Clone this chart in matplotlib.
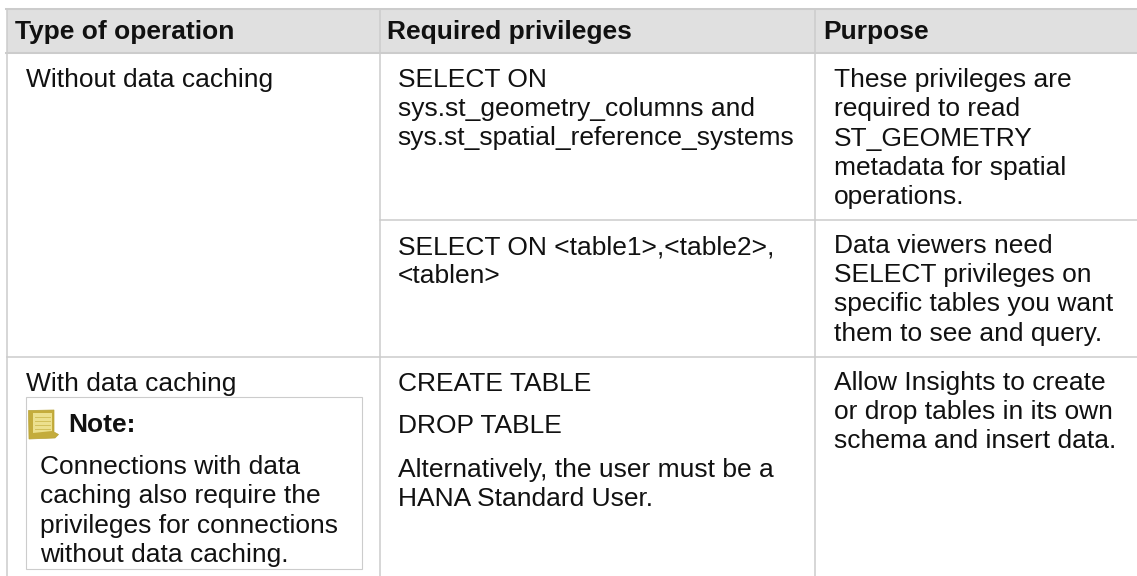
import matplotlib
matplotlib.use("Agg")
import matplotlib.pyplot as plt
from matplotlib.patches import Polygon, Rectangle

plt.rcParams['font.family'] = ['Liberation Sans', 'DejaVu Sans']

headers = ["Type of operation", "Required privileges", "Purpose"]
type_rows = ["Without data caching", "With data caching"]
note_title = "Note:"
note_lines = ["Connections with data", "caching also require the",
              "privileges for connections", "without data caching."]
priv_row1 = ["SELECT ON", "sys.st_geometry_columns and", "sys.st_spatial_reference_systems"]
priv_row2 = ["SELECT ON <table1>,<table2>,", "<tablen>"]
priv_row3 = ["CREATE TABLE", "DROP TABLE", "Alternatively, the user must be a", "HANA Standard User."]
purpose_row1 = ["These privileges are", "required to read", "ST_GEOMETRY",
                "metadata for spatial", "operations."]
purpose_row2 = ["Data viewers need", "SELECT privileges on",
                "specific tables you want", "them to see and query."]
purpose_row3 = ["Allow Insights to create", "or drop tables in its own",
                "schema and insert data."]

W, H = 1137, 576
LINE = "#cccccc"
INK = "#111111"
FS = 19

fig = plt.figure(figsize=(W / 100, H / 100), dpi=100)
ax = fig.add_axes([0, 0, 1, 1])
ax.set_xlim(0, W)
ax.set_ylim(H, 0)
ax.axis("off")

# cabecera
ax.add_patch(Rectangle((7, 9), W - 7, 43.5, facecolor="#e0e0e0", edgecolor="none", zorder=1))

# lineas de la tabla
lw = 1.45
ax.plot([6, W], [9, 9], color=LINE, lw=lw, zorder=2)
ax.plot([6, W], [52.5, 52.5], color=LINE, lw=lw, zorder=2)
ax.plot([380, W], [219.7, 219.7], color=LINE, lw=1.1, zorder=2)
ax.plot([7, W], [357, 357], color=LINE, lw=1.1, zorder=2)
for x in [7, 379.5, 815]:
    ax.plot([x, x], [9, H], color=LINE, lw=1.1, zorder=2)


def put(x, baselines, lines, **kw):
    for y, s in zip(baselines, lines):
        ax.text(x, y, s, fontsize=FS, color=INK, va="baseline", ha="left", zorder=4, **kw)


# encabezados
put(15, [39.5], headers[:1], fontweight="bold")
put(387, [39.5], headers[1:2], fontweight="bold")
put(823, [39.5], headers[2:], fontweight="bold")

# primera columna
put(26, [87, 391], type_rows)

# nota
ax.add_patch(Rectangle((25.5, 397), 336, 171.7, facecolor="white", edgecolor=LINE, lw=0.8, zorder=2))
ax.add_patch(Polygon([(28.5, 410.5), (54, 410), (54, 432), (58.5, 434.5), (55, 438), (29, 439)],
                     facecolor="#c4ac3c", edgecolor="#b8a236", lw=0.5, zorder=3))
ax.add_patch(Polygon([(33, 413), (52, 413), (52, 431), (33, 433)],
                     facecolor="#ece08e", edgecolor="none", zorder=3))
for y in [417, 421, 425, 429]:
    ax.plot([35, 50], [y, y], color="#d2c05a", lw=0.7, zorder=3)
put(68.5, [431.5], [note_title], fontweight="bold")
put(40, [474, 503, 532.5, 562], note_lines)

# segunda columna
put(397.5, [87, 116, 145], priv_row1)
put(397.5, [254, 283], priv_row2)
put(397.5, [391, 433, 477, 506], priv_row3)

# tercera columna
put(833.5, [87, 116, 146, 175, 204], purpose_row1)
put(833.5, [253, 282, 311, 341], purpose_row2)
put(833.5, [390, 419, 448], purpose_row3)

fig.savefig("out.png", dpi=100)
